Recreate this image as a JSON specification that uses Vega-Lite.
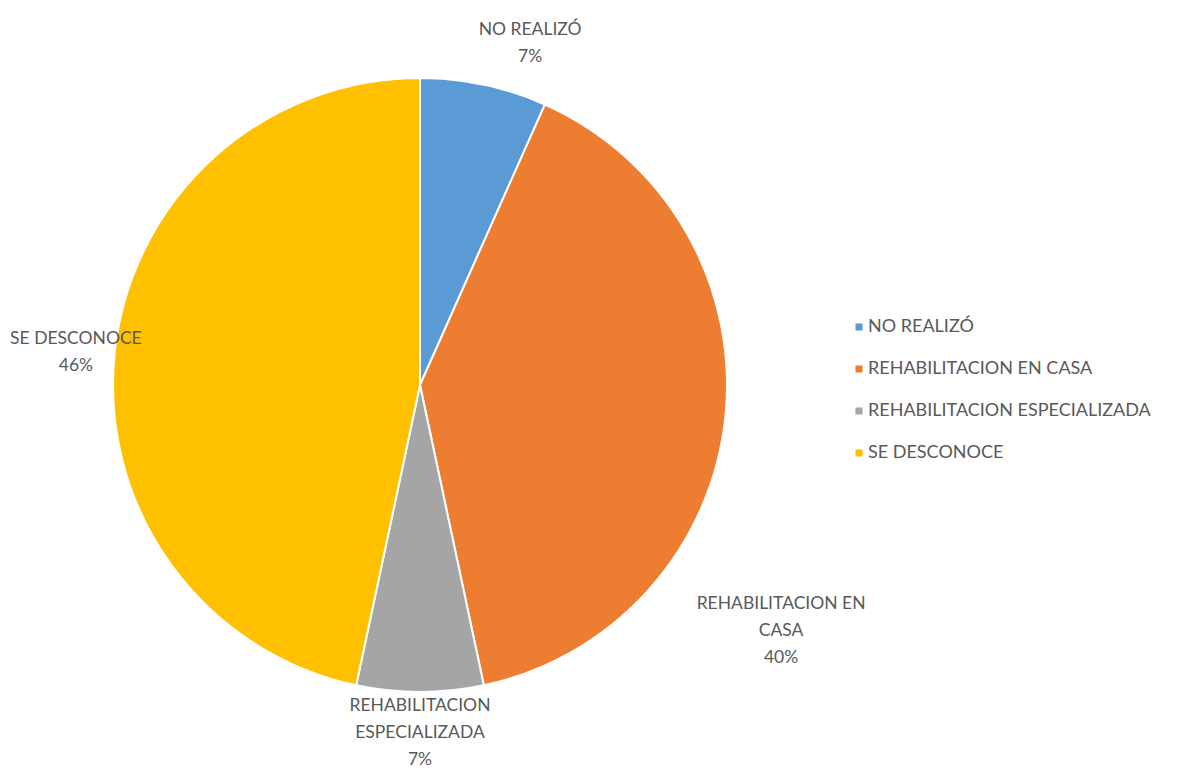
{
  "$schema": "https://vega.github.io/schema/vega-lite/v6.json",
  "width": 840,
  "height": 770,
  "padding": 0,
  "background": "white",
  "config": {"view": {"stroke": null}, "font": "Lato"},
  "data": {
    "values": [
      {"cat": "NO REALIZÓ", "n": 1, "label": "NO REALIZÓ\n7%"},
      {"cat": "REHABILITACION EN CASA", "n": 6, "label": "REHABILITACION EN\nCASA\n40%"},
      {"cat": "REHABILITACION ESPECIALIZADA", "n": 1, "label": "REHABILITACION\nESPECIALIZADA\n7%"},
      {"cat": "SE DESCONOCE", "n": 7, "label": "SE DESCONOCE\n46%"}
    ]
  },
  "encoding": {
    "theta": {"field": "n", "type": "quantitative", "stack": true},
    "order": {"field": "cat", "type": "nominal"}
  },
  "layer": [
    {
      "mark": {"type": "arc", "outerRadius": 307, "stroke": "white", "strokeWidth": 2},
      "encoding": {
        "color": {
          "field": "cat", "type": "nominal",
          "scale": {"domain": ["NO REALIZÓ", "REHABILITACION EN CASA", "REHABILITACION ESPECIALIZADA", "SE DESCONOCE"],
                    "range": ["#5B9BD5", "#ED7D31", "#A5A5A5", "#FFC000"]},
          "legend": {
            "title": null, "orient": "none", "legendX": 850, "legendY": 318,
            "symbolType": "square", "symbolSize": 50, "symbolStrokeWidth": 0,
            "labelFontSize": 18, "labelColor": "#595959", "labelFont": "Lato",
            "rowPadding": 24, "labelOffset": 0, "labelLimit": 400
          }
        }
      }
    },
    {
      "mark": {"type": "text", "radius": 347, "dy": -26, "fontSize": 17.5, "lineBreak": "\n", "lineHeight": 27, "color": "#595959", "align": "center", "baseline": "middle"},
      "encoding": {
        "detail": {"field": "cat", "type": "nominal"},
        "text": {"condition": {"test": "datum.cat == 'REHABILITACION ESPECIALIZADA'", "field": "label"}, "value": ""}
      }
    },
    {
      "mark": {"type": "text", "radius": 347, "dx": 1, "dy": -10, "fontSize": 17.5, "lineBreak": "\n", "lineHeight": 27, "color": "#595959", "align": "center", "baseline": "middle"},
      "encoding": {
        "detail": {"field": "cat", "type": "nominal"},
        "text": {"condition": {"test": "datum.cat == 'SE DESCONOCE'", "field": "label"}, "value": ""}
      }
    },
    {
      "mark": {"type": "text", "radius": 347, "dx": 38, "dy": -16, "fontSize": 17.5, "lineBreak": "\n", "lineHeight": 27, "color": "#595959", "align": "center", "baseline": "middle"},
      "encoding": {
        "detail": {"field": "cat", "type": "nominal"},
        "text": {"condition": {"test": "datum.cat == 'NO REALIZÓ'", "field": "label"}, "value": ""}
      }
    },
    {
      "mark": {"type": "text", "radius": 347, "dx": 16, "dy": 183, "fontSize": 17.5, "lineBreak": "\n", "lineHeight": 27, "color": "#595959", "align": "center", "baseline": "middle"},
      "encoding": {
        "detail": {"field": "cat", "type": "nominal"},
        "text": {"condition": {"test": "datum.cat == 'REHABILITACION EN CASA'", "field": "label"}, "value": ""}
      }
    }
  ]
}
